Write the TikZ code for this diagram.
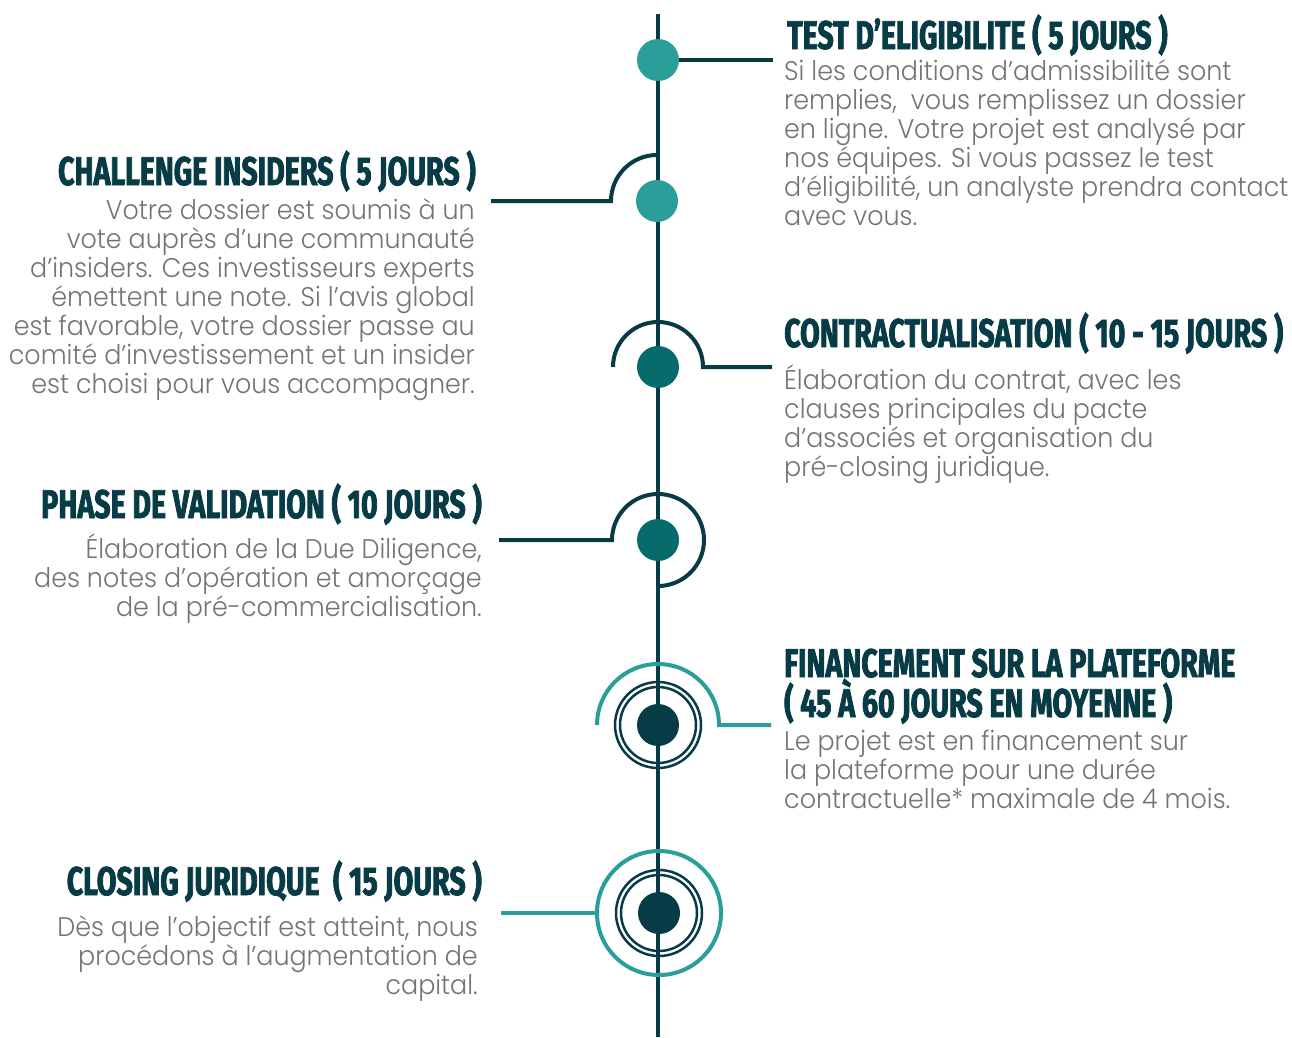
\documentclass[tikz,border=0pt]{standalone}
\usepackage{fontspec}
\newfontfamily\headfont{Fira Sans Bold}[FakeStretch=0.715,FakeBold=2]
\newfontfamily\bodyfont{Poppins Light}[FakeStretch=0.94]
\definecolor{darkteal}{HTML}{073B45}
\definecolor{teal}{HTML}{2A9E99}
\definecolor{midteal}{HTML}{076B6C}
\definecolor{bodygray}{HTML}{737477}
\begin{document}
\begin{tikzpicture}[x=1pt,y=1pt,
  spine/.style={line width=4pt,draw=darkteal},
  dot/.style={circle,fill=#1,minimum size=42pt,inner sep=0pt},
  hook/.style={line width=4pt,draw=#1},
  ring/.style={line width=2.5pt,draw=darkteal},
  head/.style={inner sep=0pt,text=darkteal,align=#1,
    font=\headfont\fontsize{40}{38}\selectfont},
  body/.style={inner sep=0pt,text=bodygray,align=#1,
    font=\bodyfont\fontsize{27}{29}\selectfont}]
\useasboundingbox (0,0) rectangle (1292,-1037);
% time line
\coordinate (top) at (658,-14);
\coordinate (bottom) at (658,-1037);
\draw[spine] (top) -- (bottom);
\coordinate (e1) at (773,-60);
\coordinate (e2) at (491,-201);
\coordinate (e3) at (772,-367);
\coordinate (e4) at (499,-540);
\coordinate (e5) at (771,-725);
\coordinate (e6) at (501,-913);
% markers
\node[dot=teal] (d1) at (658,-60) {};
\node[dot=teal] (d2) at (657,-201) {};
\node[dot=midteal] (d3) at (658,-367) {};
\node[dot=midteal] (d4) at (658,-540) {};
\node[dot=darkteal] (d5) at (658,-725) {};
\node[dot=darkteal] (d6) at (659,-913) {};
\draw[hook=darkteal] (d1) -- (e1);
\draw[hook=darkteal] (e2) -- ([xshift=-46pt]d2.center) arc[start angle=180,end angle=90,radius=46];
\draw[hook=darkteal] ([xshift=-45pt]d3.center) arc[start angle=180,end angle=0,radius=45] -- (e3);
\draw[hook=darkteal] (e4) -- ([xshift=-46pt]d4.center) arc[start angle=180,end angle=-90,radius=46];
\draw[ring] (d5.center) circle[radius=43] (d5.center) circle[radius=38];
\draw[hook=teal] ([xshift=-61pt]d5.center) arc[start angle=180,end angle=0,radius=61] -- (e5);
\draw[ring] (d6.center) circle[radius=43] (d6.center) circle[radius=38];
\draw[hook=teal] (d6.center) circle[radius=62];
\draw[hook=teal] (e6) -- ([xshift=-62pt]d6.center);
% steps (base of a multi-line node = its last line)
\node[head=left,anchor=base west] (t1) at (787,-49) {TEST D’ELIGIBILITE ( 5 JOURS )};
\node[body=left,anchor=base west] (b1) at ([xshift=-3pt,yshift=-176pt]t1.base west)
  {Si les conditions d’admissibilité sont\\remplies,~ vous remplissez un dossier\\en ligne. Votre projet est analysé par\\nos équipes. Si vous passez le test\\d’éligibilité, un analyste prendra contact\\avec vous.};
\node[head=right,anchor=base east] (t2) at (476,-185) {CHALLENGE INSIDERS ( 5 JOURS )};
\node[body=right,anchor=base east] (b2) at ([xshift=-1pt,yshift=-208pt]t2.base east)
  {Votre dossier est soumis à un\\vote auprès d’une communauté\\d’insiders. Ces investisseurs experts\\émettent une note. Si l’avis global\\est favorable, votre dossier passe au\\comité d’investissement et un insider\\est choisi pour vous accompagner.};
\node[head=left,anchor=base west] (t3) at (784,-347) {CONTRACTUALISATION ( 10 - 15 JOURS )};
\node[body=left,anchor=base west] (b3) at ([yshift=-129pt]t3.base west)
  {Élaboration du contrat, avec les\\clauses principales du pacte\\d’associés et organisation du\\pré-closing juridique.};
\node[head=right,anchor=base east] (t4) at (482,-518) {PHASE DE VALIDATION ( 10 JOURS )};
\node[body=right,anchor=base east] (b4) at ([yshift=-98pt]t4.base east)
  {Élaboration de la Due Diligence,\\des notes d’opération et amorçage\\de la pré-commercialisation.};
\node[head=left,anchor=base west] (t5) at (784,-717) {FINANCEMENT SUR LA PLATEFORME\\( 45 À 60 JOURS EN MOYENNE )};
\node[body=left,anchor=base west] (b5) at ([yshift=-91pt]t5.base west)
  {Le projet est en financement sur\\la plateforme pour une durée\\contractuelle* maximale de 4 mois.};
\node[head=right,anchor=base east] (t6) at (482,-895) {CLOSING JURIDIQUE~ ( 15 JOURS )};
\node[body=right,anchor=base east] (b6) at ([xshift=-4pt,yshift=-99pt]t6.base east)
  {Dès que l’objectif est atteint, nous\\procédons à l’augmentation de\\capital.};
\end{tikzpicture}
\end{document}
